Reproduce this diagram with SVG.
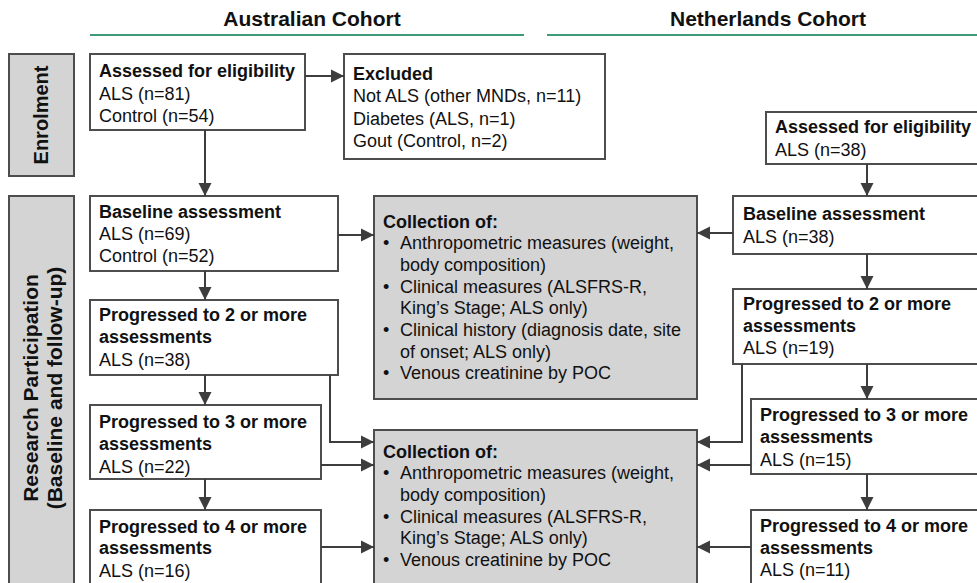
<svg xmlns="http://www.w3.org/2000/svg" width="977" height="583" viewBox="0 0 977 583">
<defs>
<marker id="ah" markerUnits="userSpaceOnUse" markerWidth="14" markerHeight="14" refX="13" refY="7" orient="auto">
<path d="M0,0.5 L13,7 L0,13.5 z" fill="#3d3d3d"/>
</marker>
<style>
text{font-family:"Liberation Sans",Arial,Helvetica,sans-serif;fill:#111;font-size:18px}
.b{font-weight:bold}
.hd{font-weight:bold;font-size:21px;text-anchor:middle}
.side{font-weight:bold;font-size:20px;text-anchor:middle}
.side2{font-weight:bold;font-size:21px;text-anchor:middle}
.box{fill:#fff;stroke:#4d4d4d;stroke-width:2}
.gbox{fill:#d4d4d4;stroke:#4d4d4d;stroke-width:2}
.green{stroke:#3f9a78;stroke-width:2}
.con{fill:none;stroke:#3d3d3d;stroke-width:2;marker-end:url(#ah)}
</style>
</defs>
<rect width="977" height="583" fill="#fff"/>

<g id="headers">
<text class="hd" x="312" y="26">Australian Cohort</text>
<line class="green" x1="90" y1="35" x2="524" y2="35"/>
<text class="hd" x="768" y="26">Netherlands Cohort</text>
<line class="green" x1="547" y1="35" x2="977" y2="35"/>
</g>

<g id="enrolment">
<rect class="gbox" x="9" y="54" width="65" height="122"/>
<text class="side" transform="translate(48,115) rotate(-90)">Enrolment</text>
</g>

<g id="research">
<rect class="gbox" x="9" y="196" width="65" height="410"/>
<text class="side2" transform="translate(37.5,388) rotate(-90)">Research Participation</text>
<text class="side2" transform="translate(61.5,388) rotate(-90)">(Baseline and follow-up)</text>
</g>

<g id="au-assessed">
<rect class="box" x="90" y="54" width="215" height="76"/>
<text class="b" x="99" y="77">Assessed for eligibility</text>
<text x="99" y="99.5">ALS (n=81)</text>
<text x="99" y="122">Control (n=54)</text>
</g>

<g id="excluded">
<rect class="box" x="344" y="54" width="261" height="105"/>
<text class="b" x="353" y="79.5">Excluded</text>
<text x="353" y="102">Not ALS (other MNDs, n=11)</text>
<text x="353" y="124.5">Diabetes (ALS, n=1)</text>
<text x="353" y="147">Gout (Control, n=2)</text>
</g>

<g id="au-baseline">
<rect class="box" x="90" y="196" width="248" height="75"/>
<text class="b" x="99" y="217.5">Baseline assessment</text>
<text x="99" y="240">ALS (n=69)</text>
<text x="99" y="262">Control (n=52)</text>
</g>

<g id="au-prog2">
<rect class="box" x="90" y="300" width="248" height="75"/>
<text class="b" x="99" y="320.5">Progressed to 2 or more</text>
<text class="b" x="99" y="343">assessments</text>
<text x="99" y="366">ALS (n=38)</text>
</g>

<g id="au-prog3">
<rect class="box" x="90" y="405" width="231" height="74"/>
<text class="b" x="99" y="428">Progressed to 3 or more</text>
<text class="b" x="99" y="450">assessments</text>
<text x="99" y="472.5">ALS (n=22)</text>
</g>

<g id="au-prog4">
<rect class="box" x="90" y="510" width="231" height="95"/>
<text class="b" x="99" y="532.5">Progressed to 4 or more</text>
<text class="b" x="99" y="554">assessments</text>
<text x="99" y="576.5">ALS (n=16)</text>
</g>

<g id="collection1">
<rect class="gbox" x="374" y="196" width="323" height="203"/>
<text class="b" x="383" y="227.7">Collection of:</text>
<text x="383" y="249.3">•</text><text x="400" y="249.3">Anthropometric measures (weight,</text>
<text x="400" y="271">body composition)</text>
<text x="383" y="292.7">•</text><text x="400" y="292.7">Clinical measures (ALSFRS-R,</text>
<text x="400" y="314.3">King’s Stage; ALS only)</text>
<text x="383" y="336">•</text><text x="400" y="336">Clinical history (diagnosis date, site</text>
<text x="400" y="357.7">of onset; ALS only)</text>
<text x="383" y="379.3">•</text><text x="400" y="379.3">Venous creatinine by POC</text>
</g>

<g id="collection2">
<rect class="gbox" x="374" y="430" width="323" height="175"/>
<text class="b" x="383" y="457.7">Collection of:</text>
<text x="383" y="479.3">•</text><text x="400" y="479.3">Anthropometric measures (weight,</text>
<text x="400" y="501">body composition)</text>
<text x="383" y="522.7">•</text><text x="400" y="522.7">Clinical measures (ALSFRS-R,</text>
<text x="400" y="544.3">King’s Stage; ALS only)</text>
<text x="383" y="566">•</text><text x="400" y="566">Venous creatinine by POC</text>
</g>

<g id="nl-assessed">
<rect class="box" x="766" y="112" width="230" height="52"/>
<text class="b" x="775" y="133">Assessed for eligibility</text>
<text x="775" y="156">ALS (n=38)</text>
</g>

<g id="nl-baseline">
<rect class="box" x="733" y="196" width="260" height="58"/>
<text class="b" x="743" y="220">Baseline assessment</text>
<text x="743" y="243">ALS (n=38)</text>
</g>

<g id="nl-prog2">
<rect class="box" x="733" y="289" width="260" height="75"/>
<text class="b" x="743" y="309.5">Progressed to 2 or more</text>
<text class="b" x="743" y="331.5">assessments</text>
<text x="743" y="353.5">ALS (n=19)</text>
</g>

<g id="nl-prog3">
<rect class="box" x="751" y="399" width="240" height="75"/>
<text class="b" x="760" y="421">Progressed to 3 or more</text>
<text class="b" x="760" y="443">assessments</text>
<text x="760" y="465.5">ALS (n=15)</text>
</g>

<g id="nl-prog4">
<rect class="box" x="751" y="510" width="240" height="95"/>
<text class="b" x="760" y="532">Progressed to 4 or more</text>
<text class="b" x="760" y="553.5">assessments</text>
<text x="760" y="576">ALS (n=11)</text>
</g>

<g id="connectors">
<line class="con" x1="305" y1="76" x2="344" y2="76"/>
<line class="con" x1="205" y1="130" x2="205" y2="196"/>
<line class="con" x1="338" y1="235" x2="374" y2="235"/>
<line class="con" x1="205" y1="271" x2="205" y2="300"/>
<line class="con" x1="205" y1="375" x2="205" y2="405"/>
<polyline class="con" points="330,375 330,442 374,442"/>
<line class="con" x1="321" y1="465" x2="374" y2="465"/>
<line class="con" x1="205" y1="479" x2="205" y2="510"/>
<line class="con" x1="321" y1="547" x2="374" y2="547"/>
<line class="con" x1="867" y1="164" x2="867" y2="196"/>
<line class="con" x1="733" y1="233" x2="697" y2="233"/>
<line class="con" x1="867" y1="254" x2="867" y2="289"/>
<line class="con" x1="867" y1="364" x2="867" y2="399"/>
<polyline class="con" points="742,364 742,442 697,442"/>
<line class="con" x1="751" y1="465" x2="697" y2="465"/>
<line class="con" x1="867" y1="474" x2="867" y2="510"/>
<line class="con" x1="751" y1="547" x2="697" y2="547"/>
</g>
</svg>
